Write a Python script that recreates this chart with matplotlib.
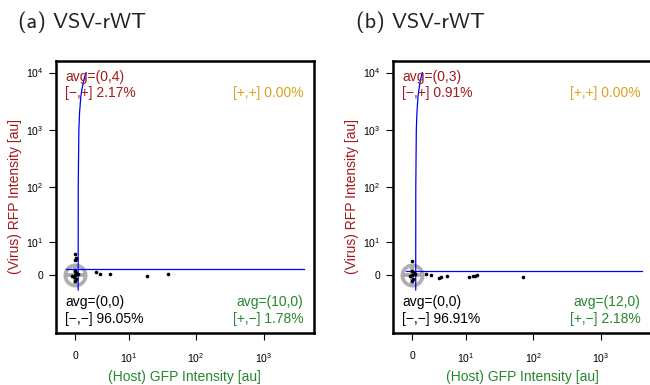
import numpy as np
import matplotlib
matplotlib.use("Agg")
from matplotlib import pyplot as plt
from matplotlib.ticker import NullLocator

plt.rcParams['font.family'] = ['Liberation Sans', 'DejaVu Sans']
plt.rcParams['mathtext.fontset'] = 'custom'
plt.rcParams['mathtext.rm'] = 'Liberation Sans'
plt.rcParams['mathtext.it'] = 'Liberation Sans:italic'

# tick values and labels (both axes)
tick_vals = [0, 10, 100, 1000, 10000]
tick_labels = ['0', r'$\mathregular{10^1}$', r'$\mathregular{10^2}$',
               r'$\mathregular{10^3}$', r'$\mathregular{10^4}$']

titles = ['(a) VSV-rWT', '(b) VSV-rWT']

# single cell points (host GFP, virus RFP)
a_x = [-0.04, 0.15, -0.04, 0.1, 0.0, 0.3, -0.3, 0.0, 0.05, 0.15, -0.1, 0.0,
       2.5, 3.2, 4.8, 18.6, 39]
a_y = [5.4, 4.1, 3.6, 3.9, 0.0, 0.2, -0.2, 1.0, -1.0, 0.5, -0.6, -1.5,
       0.72, 0.3, 0.24, -0.33, 0.24]
b_x = [-0.1, 0.0, 0.3, -0.3, 0.0, 0.05, 0.15, -0.1,
       1.55, 2.2, 3.4, 3.8, 4.8, 11.1, 12.9, 14.5, 13.7, 71]
b_y = [3.25, 0.0, 0.2, -0.2, 1.0, -1.0, 0.5, -1.4,
       0.3, 0.0, -0.7, -0.4, -0.17, -0.5, -0.2, -0.1, -0.35, -0.4]

# gate boundaries
a_vgate_x = [0.34, 0.35, 0.42, 0.50, 0.64, 0.76, 1.00, 1.25]
a_vgate_y = [-3.7, 100, 1000, 2000, 3770, 5000, 7500, 10000]
a_hgate_x = [-1.03, 3936]
a_hgate_y = [1.27, 1.27]
b_vgate_x = [0.37, 0.38, 0.44, 0.51, 0.63, 0.73, 0.92, 1.12]
b_vgate_y = [-3.7, 100, 1000, 2000, 3770, 5000, 7500, 10000]
b_hgate_x = [-0.75, 4100]
b_hgate_y = [0.86, 0.86]

# quadrant annotations
a_quad = {'ul': ('avg=(0,4)', '[\u2212,+] 2.17%'), 'ur': ('', '[+,+] 0.00%'),
          'll': ('avg=(0,0)', '[\u2212,\u2212] 96.05%'),
          'lr': ('avg=(10,0)', '[+,\u2212] 1.78%')}
b_quad = {'ul': ('avg=(0,3)', '[\u2212,+] 0.91%'), 'ur': ('', '[+,+] 0.00%'),
          'll': ('avg=(0,0)', '[\u2212,\u2212] 96.91%'),
          'lr': ('avg=(12,0)', '[+,\u2212] 2.18%')}

red = '#a3191b'
green = '#25882a'
gold = '#d9a21f'


def draw_panel(fig, rect, title, px, py, vgx, vgy, hgx, hgy, quad, title_x):
    ax = fig.add_axes(rect)
    ax.set_xscale('asinh', linear_width=3.3)
    ax.set_yscale('asinh', linear_width=5.7)
    ax.set_xlim(-2.34, 5537)
    ax.set_ylim(-29.5, 15970)

    # population centre marker
    ax.plot([0], [0], 'o', ms=14.5, mfc='none', mec='#b0b0b0', mew=2.8, zorder=2)
    ax.plot([0], [0], '+', ms=14.5, mec='#a8a8a8', mew=2.6, zorder=2)

    ax.plot(vgx, vgy, color='#0000ff', lw=0.9, zorder=3)
    ax.plot(hgx, hgy, color='#0000ff', lw=0.9, zorder=3)
    ax.plot(px, py, 'o', color='black', ms=2.6, mew=0, zorder=4)

    ax.set_xticks(tick_vals[:4], tick_labels[:4])
    ax.set_yticks(tick_vals, tick_labels)
    ax.xaxis.set_minor_locator(NullLocator())
    ax.yaxis.set_minor_locator(NullLocator())
    ax.tick_params(length=5, width=0.8, labelsize=7.5, direction='out')
    ax.tick_params(axis='x', pad=8)
    ax.tick_params(axis='y', pad=4)
    for s in ax.spines.values():
        s.set_linewidth(1.8)

    ax.set_xlabel('(Host) GFP Intensity [au]', color=green, fontsize=10, va='center')
    ax.xaxis.set_label_coords(0.5, -0.161)
    ax.set_ylabel('(Virus) RFP Intensity [au]', color=red, fontsize=10, va='center')
    ax.yaxis.set_label_coords(-0.158, 0.5)

    fs = 10
    xl, xr = 0.036, 0.9586
    ax.text(xl, 0.941, quad['ul'][0], color=red, fontsize=fs, transform=ax.transAxes, va='center', ha='left')
    ax.text(xl, 0.882, quad['ul'][1], color=red, fontsize=fs, transform=ax.transAxes, va='center', ha='left')
    ax.text(xr, 0.882, quad['ur'][1], color=gold, fontsize=fs, transform=ax.transAxes, va='center', ha='right')
    ax.text(xl, 0.115, quad['ll'][0], color='black', fontsize=fs, transform=ax.transAxes, va='center', ha='left')
    ax.text(xl, 0.0515, quad['ll'][1], color='black', fontsize=fs, transform=ax.transAxes, va='center', ha='left')
    ax.text(xr, 0.115, quad['lr'][0], color=green, fontsize=fs, transform=ax.transAxes, va='center', ha='right')
    ax.text(xr, 0.0515, quad['lr'][1], color=green, fontsize=fs, transform=ax.transAxes, va='center', ha='right')

    fig.text(title_x, 1 - 22 / 385, title, fontsize=16, family='cmss10',
             va='center', ha='left', color='#222222')
    return ax


def main():
    fig = plt.figure(figsize=(6.5, 3.85), dpi=100)
    draw_panel(fig, [0.0857, 0.1351, 0.3974, 0.7065], titles[0],
               a_x, a_y, a_vgate_x, a_vgate_y, a_hgate_x, a_hgate_y, a_quad, 18 / 650)
    draw_panel(fig, [0.6046, 0.1351, 0.3974, 0.7065], titles[1],
               b_x, b_y, b_vgate_x, b_vgate_y, b_hgate_x, b_hgate_y, b_quad, 356 / 650)
    fig.savefig('out.png', dpi=100)


if __name__ == '__main__':
    main()
